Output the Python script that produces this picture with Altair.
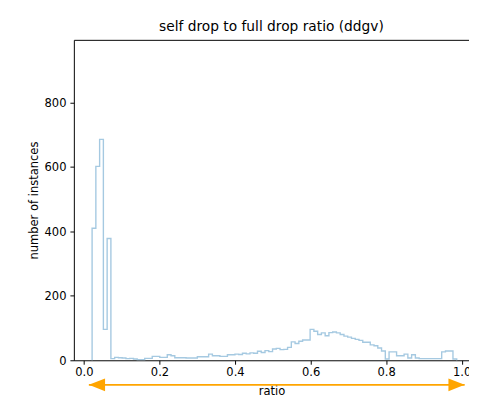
import altair as alt
import numpy as np
import pandas as pd

# ---- data -------------------------------------------------------------
bin_lo = 0.0216
bin_hi = 0.987
counts = [
    410, 602, 686, 96, 378, 5, 9, 8, 7, 5,
    6, 4, 2, 2, 6, 6, 12, 12, 9, 9,
    17, 14, 8, 8, 8, 7, 7, 7, 11, 11,
    11, 19, 14, 14, 12, 12, 17, 17, 19, 18,
    22, 20, 23, 22, 28, 24, 30, 27, 35, 37,
    33, 34, 40, 57, 52, 59, 63, 63, 96, 90,
    80, 85, 76, 86, 88, 85, 80, 75, 72, 68,
    65, 62, 56, 56, 48, 45, 38, 29, 4, 26,
    26, 14, 14, 19, 7, 17, 7, 5, 5, 5,
    5, 5, 5, 26, 29, 29, 4,
]
arrow_x = [0.013, 1.008]
x_ticks = [0.0, 0.2, 0.4, 0.6, 0.8, 1.0]
y_ticks = [0, 200, 400, 600, 800]
# visible part of the x range (the reference is cropped on the right)
x_domain = [-0.0267, 1.0195]
y_domain = [0, 995]

title = "self drop to full drop ratio (ddgv)"
x_title = "ratio"
y_title = "number of instances"

# ---- build step outline table -----------------------------------------
edges = np.linspace(bin_lo, bin_hi, len(counts) + 1)
xs = [edges[0]] + list(edges[:-1]) + [edges[-1]]
ys = [0] + counts + [0]
hist = pd.DataFrame({"x": xs, "y": ys, "order": list(range(len(xs)))})
arrow = pd.DataFrame({"x0": [arrow_x[0]], "x1": [arrow_x[1]]})
left_tip = pd.DataFrame({"x": [arrow_x[0]]})
right_tip = pd.DataFrame({"x": [arrow_x[1]]})

xscale = alt.Scale(domain=x_domain, nice=False, zero=False)
yscale = alt.Scale(domain=y_domain, nice=False)

line = alt.Chart(hist).mark_line(
    interpolate="step-after", color="#a5c9e1", strokeWidth=1.4
).encode(
    x=alt.X("x:Q", scale=xscale,
            axis=alt.Axis(values=x_ticks, format=".1f", title=x_title,
                          grid=False, labelPadding=2.5, titlePadding=8)),
    y=alt.Y("y:Q", scale=yscale,
            axis=alt.Axis(values=y_ticks, title=y_title, grid=False,
                          labelPadding=4, titlePadding=5)),
    order="order:Q",
)

# top spine drawn as a bare top axis
top_spine = alt.Chart(arrow).mark_rule(opacity=0).encode(
    x=alt.X("x0:Q", scale=xscale,
            axis=alt.Axis(orient="top", labels=False, ticks=False,
                          title=None, grid=False, domain=True)),
)

arrow_y = 351
orange = "#ffa500"
rule = alt.Chart(arrow).mark_rule(color=orange, strokeWidth=1.7).encode(
    x=alt.X("x0:Q", axis=None), x2="x1:Q", y=alt.value(arrow_y)
)
head_l = alt.Chart(left_tip).mark_point(
    shape="M0,0L2.2,-0.85L2.2,0.85Z", size=225, filled=True,
    color=orange, opacity=1, strokeWidth=0
).encode(x=alt.X("x:Q", axis=None), y=alt.value(arrow_y))
head_r = alt.Chart(right_tip).mark_point(
    shape="M0,0L-2.2,-0.85L-2.2,0.85Z", size=225, filled=True,
    color=orange, opacity=1, strokeWidth=0
).encode(x=alt.X("x:Q", axis=None), y=alt.value(arrow_y))

chart = alt.layer(line, top_spine, rule, head_l, head_r).resolve_axis(
    x="independent"
).properties(
    width=402, height=326, title=title,
    autosize=alt.AutoSizeParams(type="none"),
    padding={"left": 67, "top": 29, "right": 0, "bottom": 37},
).configure_view(
    stroke=None
).configure_axis(
    domainColor="black", tickColor="black", labelColor="black",
    titleColor="black", labelFont="DejaVu Sans", titleFont="DejaVu Sans",
    labelFontSize=11.7, titleFontSize=11.7, titleFontWeight="normal",
    tickSize=4, domainWidth=1, tickWidth=1,
).configure_title(
    font="DejaVu Sans", fontSize=14, fontWeight="normal", color="black",
    offset=6,
)

chart.save("out.html", embed_options={"renderer": "svg", "actions": False})
